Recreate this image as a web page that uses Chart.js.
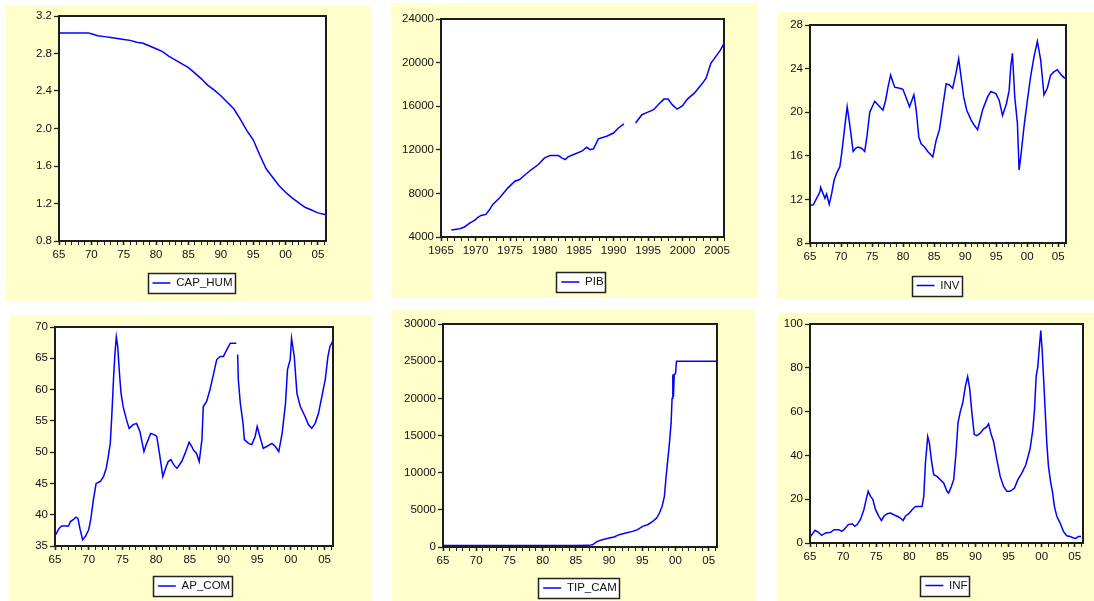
<!DOCTYPE html>
<html><head><meta charset="utf-8">
<script src="https://cdn.jsdelivr.net/npm/chart.js@4.4.1/dist/chart.umd.min.js"></script>
<style>
html,body{margin:0;padding:0;background:#fff;width:1094px;height:601px;overflow:hidden;}
.panel{position:absolute;background:#FFFFCC;}
.panel canvas{position:absolute;left:0;top:0;}
</style></head><body>
<div id="p1" class="panel"><canvas id="c1"></canvas></div>
<div id="p2" class="panel"><canvas id="c2"></canvas></div>
<div id="p3" class="panel"><canvas id="c3"></canvas></div>
<div id="p4" class="panel"><canvas id="c4"></canvas></div>
<div id="p5" class="panel"><canvas id="c5"></canvas></div>
<div id="p6" class="panel"><canvas id="c6"></canvas></div>
<script>
// ---------- tick labels ----------
const labelYears = [1965,1970,1975,1980,1985,1990,1995,2000,2005];
const shortYearLabels = ['65','70','75','80','85','90','95','00','05'];
const fullYearLabels = ['1965','1970','1975','1980','1985','1990','1995','2000','2005'];

// ---------- CAP_HUM ----------
const capHumYears = [1965,1969.5,1970,1971,1972,1973,1974,1975,1976,1977,1978,1979,1980,1981,1982,1983,1984,1985,1986,1987,1988,1989,1990,1991,1992,1993,1994,1995,1996,1997,1998,1999,2000,2001,2002,2003,2004,2005,2006.25];
const capHumValues = [3.02,3.02,3.01,2.99,2.98,2.97,2.96,2.95,2.94,2.92,2.91,2.88,2.85,2.82,2.77,2.73,2.69,2.65,2.59,2.53,2.46,2.41,2.35,2.28,2.21,2.10,1.98,1.88,1.72,1.57,1.48,1.39,1.32,1.26,1.21,1.16,1.13,1.10,1.08];

// ---------- PIB ----------
const pibYears = [1966.5,1967.7,1968.4,1969.1,1969.9,1970.3,1970.8,1971.5,1972.0,1972.5,1973.5,1974.7,1975.7,1976.4,1977.1,1978.1,1979.1,1980.0,1980.8,1982.0,1982.5,1983.0,1983.4,1984.4,1985.4,1986.1,1986.6,1987.1,1987.8,1989.0,1990.0,1990.7,1991.5,1992.3,1993.2,1994.1,1994.9,1995.8,1996.6,1997.3,1997.9,1998.5,1999.2,2000.0,2000.7,2001.7,2002.9,2003.4,2004.1,2004.8,2005.5,2006.0];
const pibValues = [4640,4760,4920,5250,5550,5770,5980,6070,6470,6990,7600,8510,9120,9270,9670,10190,10650,11260,11470,11470,11260,11100,11350,11620,11870,12230,12020,12080,13000,13240,13540,14000,14370,null,14460,15220,15430,15680,16230,16650,16650,16140,15740,16040,16650,17200,18120,18570,19940,20550,21160,21770];

// ---------- INV ----------
const invYears = [1965.0,1965.53,1966.6,1966.71,1967.41,1967.67,1968.1,1968.48,1968.9,1969.28,1969.81,1970.08,1970.35,1970.61,1970.99,1971.42,1971.95,1972.38,1972.75,1973.29,1973.82,1974.2,1974.63,1975.43,1976.23,1976.76,1977.19,1977.57,1977.99,1978.64,1979.44,1979.97,1980.51,1981.04,1981.74,1982.11,1982.54,1982.91,1983.45,1983.98,1984.79,1985.32,1985.86,1986.39,1986.93,1987.46,1987.99,1988.53,1988.96,1989.33,1989.76,1990.24,1990.94,1991.47,1992.01,1992.81,1993.61,1994.14,1994.95,1995.48,1996.02,1996.66,1997.09,1997.35,1997.62,1997.99,1998.42,1998.69,1998.96,1999.49,2000.03,2000.56,2001.1,2001.63,2002.17,2002.7,2003.24,2003.77,2004.3,2004.84,2005.53,2006.07];
const invValues = [11.46,11.5,12.7,13.1,12.1,12.5,11.55,12.5,13.8,14.4,15.0,16.1,17.4,18.7,20.5,18.8,16.4,16.7,16.8,16.7,16.4,17.9,20.0,21.0,20.5,20.2,21.1,22.3,23.4,22.3,22.2,22.1,21.3,20.5,21.6,20.2,17.7,17.1,16.8,16.4,15.9,17.4,18.4,20.5,22.6,22.5,22.2,23.6,24.9,23.3,21.4,20.2,19.3,18.8,18.4,20.2,21.4,21.9,21.7,21.1,19.7,20.8,22.0,24.2,25.4,21.4,19.0,14.7,15.9,18.7,21.1,23.3,25.1,26.5,24.8,21.6,22.2,23.4,23.7,23.9,23.4,23.1];

// ---------- AP_COM ----------
const apComYears = [1965.1,1965.6,1966.0,1967.0,1967.3,1967.7,1968.1,1968.4,1968.7,1969.1,1969.5,1970.0,1970.3,1970.7,1971.1,1971.7,1972.2,1972.6,1972.9,1973.2,1973.4,1973.7,1973.9,1974.1,1974.3,1974.6,1974.8,1975.1,1975.6,1976.0,1976.6,1977.1,1977.6,1978.2,1978.6,1979.2,1979.7,1980.1,1980.5,1981.0,1981.5,1981.8,1982.2,1982.6,1983.1,1983.8,1984.3,1984.9,1985.3,1985.5,1986.0,1986.4,1986.8,1987.0,1987.5,1988.0,1988.5,1989.0,1989.5,1990.0,1990.5,1991.0,1991.9,1992.0,1992.1,1992.2,1992.5,1992.9,1993.1,1993.7,1994.2,1994.7,1995.0,1995.4,1995.9,1996.4,1997.2,1997.7,1998.2,1998.7,1999.2,1999.5,1999.9,2000.1,2000.5,2000.9,2001.4,2002.1,2002.6,2003.1,2003.6,2004.1,2004.6,2005.1,2005.5,2005.8,2006.2];
const apComValues = [36.8,37.8,38.2,38.2,38.9,39.2,39.6,39.4,37.8,36.0,36.5,37.6,39.2,42.4,45.0,45.3,46.1,47.4,49.3,51.4,55.2,62.1,65.8,68.4,66.9,62.1,59.4,57.3,55.2,53.8,54.4,54.6,53.3,50.1,51.4,53.0,52.8,52.5,49.8,46.1,47.7,48.5,48.8,48.0,47.4,48.5,49.8,51.6,50.9,50.4,49.8,48.5,52.0,57.3,58.1,60.0,62.4,64.8,65.3,65.3,66.4,67.4,67.4,null,65.6,61.6,57.8,54.6,52.0,51.4,51.2,52.5,54.1,52.5,50.6,50.9,51.4,50.9,50.1,53.0,57.8,63.2,64.8,68.2,65.3,59.4,57.3,55.7,54.4,53.8,54.6,56.2,58.9,61.6,65.3,66.9,67.7];

// ---------- TIP_CAM ----------
const tipCamYears = [1965,1970,1975,1980,1985,1987.0,1987.5,1988.23,1988.99,1990.0,1990.76,1991.52,1992.53,1993.54,1994.29,1995.05,1995.81,1996.57,1997.17,1997.58,1997.98,1998.33,1998.59,1998.84,1999.09,1999.34,1999.49,1999.6,1999.7,1999.8,2000.0,2000.15,2006.25];
const tipCamValues = [200,200,200,200,200,220,300,760,985,1210,1340,1660,1880,2100,2330,2780,3000,3450,3900,4570,5460,6810,9490,11730,13970,16660,20000,23200,20200,23200,23300,25000,25000];

// ---------- INF ----------
const infYears = [1965.1,1965.75,1966.26,1966.76,1967.36,1968.12,1968.62,1969.37,1969.77,1970.13,1970.78,1971.38,1971.78,1972.14,1972.64,1973.14,1973.54,1973.79,1974.15,1974.5,1974.9,1975.4,1975.8,1976.16,1976.66,1977.16,1977.66,1978.17,1978.67,1979.07,1979.42,1979.92,1980.43,1980.93,1981.93,1982.19,1982.44,1982.79,1983.04,1983.34,1983.69,1984.2,1984.7,1985.2,1985.7,1985.95,1986.36,1986.71,1987.06,1987.36,1987.71,1988.07,1988.47,1988.82,1989.12,1989.47,1989.82,1990.2,1990.7,1991.2,1991.7,1991.98,1992.39,1992.74,1993.24,1993.74,1994.25,1994.75,1995.25,1995.9,1996.41,1997.01,1997.61,1998.02,1998.27,1998.67,1998.92,1999.17,1999.42,1999.62,1999.87,2000.08,2000.28,2000.53,2000.78,2001.03,2001.38,2001.63,2001.93,2002.29,2002.79,2003.29,2003.79,2004.3,2004.8,2005.15,2005.55,2005.95];
const infValues = [3.0,5.8,4.9,3.5,4.6,4.9,6.1,6.1,5.3,6.1,8.4,8.8,7.6,8.4,10.9,15.2,20.5,23.6,21.3,19.8,15.2,12.2,10.3,12.2,13.4,13.7,12.9,12.2,11.4,10.3,12.2,13.4,15.2,16.7,16.7,21.3,36.5,48.6,45.6,38.0,31.2,30.4,28.9,27.4,23.6,22.8,25.8,28.9,41.0,54.7,60.0,63.8,71.4,76.0,70.7,59.3,49.5,49.0,50.0,52.0,53.0,54.4,49.4,46.4,38.0,30.4,25.8,23.6,23.6,25.1,28.9,31.9,35.7,40.3,43.3,51.7,60.8,76.0,80.5,88.1,97.0,88.1,76.0,60.8,45.6,35.0,27.4,23.6,16.7,12.2,9.1,5.3,3.3,3.0,2.3,2.1,3.0,3.0];

// ---------- rendering ----------
Chart.defaults.font.family = '"Liberation Sans", Arial, sans-serif';
Chart.defaults.font.size = 11.5;
Chart.defaults.color = '#111111';

function legendRect(chart) {
  const lg = chart.legend;
  if (!lg || !lg.legendHitBoxes || !lg.legendHitBoxes[0]) return null;
  const hb = lg.legendHitBoxes[0];
  return { l: Math.round(hb.left - 5), t: Math.round(hb.top + hb.height / 2 - 10), w: Math.round(hb.width + 7), h: 20 };
}

const framePlugin = {
  id: 'frame',
  beforeDraw(chart) {
    const ctx = chart.ctx, a = chart.chartArea;
    ctx.save();
    ctx.fillStyle = '#ffffff';
    ctx.fillRect(a.left, a.top, a.right - a.left, a.bottom - a.top);
    const r = legendRect(chart);
    if (r) ctx.fillRect(r.l, r.t, r.w, r.h);
    ctx.restore();
  },
  afterDraw(chart) {
    const ctx = chart.ctx, a = chart.chartArea;
    ctx.save();
    ctx.strokeStyle = '#1c1c1c';
    ctx.lineWidth = 2;
    ctx.strokeRect(a.left, a.top, a.right - a.left, a.bottom - a.top);
    const r = legendRect(chart);
    if (r) {
      ctx.lineWidth = 1.5;
      ctx.strokeStyle = '#222';
      ctx.strokeRect(r.l + 0.5, r.t + 0.5, r.w, r.h);
    }
    ctx.restore();
  }
};

function makeChart(n, panel, plot, legendCY, label, xs, ys, yMin, yMax, yStep, yFmt, xLabels, xMax) {
  const div = document.getElementById('p' + n);
  div.style.left = panel.x + 'px'; div.style.top = panel.y + 'px';
  div.style.width = panel.w + 'px'; div.style.height = panel.h + 'px';
  const cv = document.getElementById('c' + n);
  const cw = panel.w, ch = panel.h + 20;
  cv.width = cw; cv.height = ch; cv.style.width = cw + 'px'; cv.style.height = ch + 'px';
  const fs = 11.5;
  const legendTop = legendCY - panel.y - (10 + fs / 2);
  const pb = ch - (legendTop + fs + 20);
  const xh = legendTop - (plot.B - panel.y);
  const yw = plot.L - panel.x;
  const pts = xs.map((x, i) => ({ x: x, y: ys[i] }));
  return new Chart(cv, {
    type: 'line',
    data: { datasets: [{ label: label, data: pts, borderColor: '#0000FF', backgroundColor: '#0000FF', borderWidth: 1.5, pointRadius: 0, tension: 0, fill: false, spanGaps: false }] },
    options: {
      responsive: false, maintainAspectRatio: false, animation: false, devicePixelRatio: 1,
      layout: { padding: { left: 0, top: plot.T - panel.y, right: panel.x + panel.w - plot.R, bottom: pb } },
      plugins: {
        tooltip: { enabled: false },
        legend: { display: true, position: 'bottom', fullSize: false,
          labels: { usePointStyle: true, pointStyle: 'line', pointStyleWidth: 18, padding: 10, color: '#111', font: { size: fs } } }
      },
      scales: {
        x: { type: 'linear', min: 1965, max: xMax, border: { display: false },
          grid: { drawOnChartArea: false, drawTicks: true, tickLength: 4, tickColor: '#222',
            tickWidth: c => (c.tick && c.tick.value % 5 === 0) ? 1.6 : 1 },
          ticks: { stepSize: 1, autoSkip: false, maxRotation: 0, minRotation: 0, includeBounds: false, padding: 3,
            callback: v => { const i = labelYears.indexOf(v); return i >= 0 ? xLabels[i] : ''; } },
          afterFit: s => { s.height = xh; } },
        y: { min: yMin, max: yMax, border: { display: false },
          grid: { drawOnChartArea: false, tickLength: 5, tickColor: '#222', tickWidth: 1.3 },
          ticks: { stepSize: yStep, padding: 2, callback: yFmt },
          afterFit: s => { s.width = yw; } }
      }
    },
    plugins: [framePlugin]
  });
}

const fmt1 = v => Number(v).toFixed(1);
const fmt0 = v => String(Math.round(v));

makeChart(1, {x:6,y:5,w:366,h:297}, {L:59,T:16,R:326,B:241}, 283, 'CAP_HUM', capHumYears, capHumValues, 0.8, 3.2, 0.4, fmt1, shortYearLabels, 2006.25);
makeChart(2, {x:391,y:3,w:367,h:295}, {L:441,T:19,R:724,B:237}, 282, 'PIB', pibYears, pibValues, 4000, 24000, 4000, fmt0, fullYearLabels, 2006);
makeChart(3, {x:777,y:12,w:317,h:287}, {L:810,T:25,R:1066,B:243}, 285.5, 'INV', invYears, invValues, 8, 28, 4, fmt0, shortYearLabels, 2006.25);
makeChart(4, {x:10,y:315,w:362,h:286}, {L:55,T:327,R:333,B:546}, 586, 'AP_COM', apComYears, apComValues, 35, 70, 5, fmt0, shortYearLabels, 2006.25);
makeChart(5, {x:391,y:310,w:364,h:291}, {L:443,T:324,R:717,B:547}, 588, 'TIP_CAM', tipCamYears, tipCamValues, 0, 30000, 5000, fmt0, shortYearLabels, 2006.25);
makeChart(6, {x:778,y:313,w:316,h:288}, {L:810,T:324,R:1083,B:543}, 585.5, 'INF', infYears, infValues, 0, 100, 20, fmt0, shortYearLabels, 2006.25);
</script>
</body></html>
